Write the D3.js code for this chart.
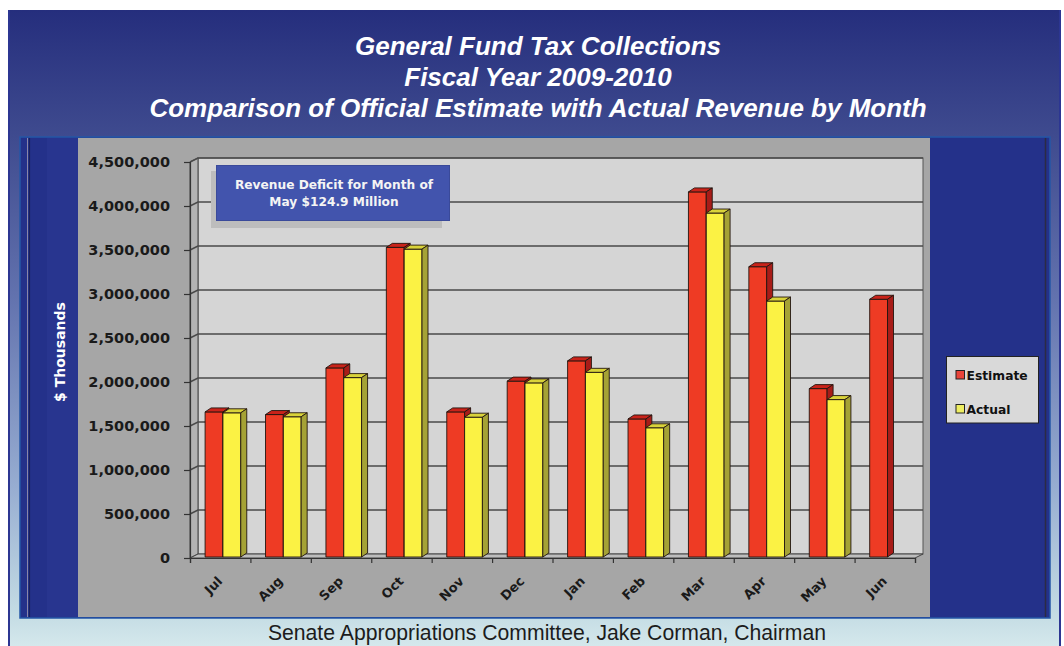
<!DOCTYPE html>
<html>
<head>
<meta charset="utf-8">
<script src="https://cdn.jsdelivr.net/npm/d3@7"></script>
<style>
  html, body { margin: 0; padding: 0; background: #ffffff; overflow: hidden; }
  svg { display: block; }
</style>
</head>
<body>
<svg id="chart" width="1064" height="646"></svg>
<script>
// ---- data ($ thousands) ----
const months = ["Jul", "Aug", "Sep", "Oct", "Nov", "Dec", "Jan", "Feb", "Mar", "Apr", "May", "Jun"];
const estimate = [1660000, 1630000, 2160000, 3530000, 1660000, 2010000, 2240000, 1580000, 4160000, 3310000, 1925000, 2940000];
const actual   = [1650000, 1605000, 2050000, 3510000, 1600000, 1990000, 2110000, 1480000, 3920000, 2920000, 1800100, null];
const yTickValues = [0, 500000, 1000000, 1500000, 2000000, 2500000, 3000000, 3500000, 4000000, 4500000];
const seriesNames = ["Estimate", "Actual"];
const titleLines = [
  "General Fund Tax Collections",
  "Fiscal Year 2009-2010",
  "Comparison of Official Estimate with Actual Revenue by Month"
];
const noteLines = ["Revenue Deficit for Month of", "May $124.9 Million"];
const yAxisTitle = "$ Thousands";
const footerText = "Senate Appropriations Committee, Jake Corman, Chairman";

// ---- layout ----
const W = 1064, H = 646;
const svg = d3.select("#chart");
const defs = svg.append("defs");

const bg = defs.append("linearGradient").attr("id", "panelGrad")
  .attr("gradientUnits", "userSpaceOnUse").attr("x1", 0).attr("y1", 10).attr("x2", 0).attr("y2", H);
[[0, "#252e7d"], [0.2, "#3f4b8f"], [0.45, "#6272ae"], [0.75, "#97add1"], [0.95, "#c4dce4"], [1, "#d4e8ec"]]
  .forEach(([o, c]) => bg.append("stop").attr("offset", o).attr("stop-color", c));

// outer panel
svg.append("rect").attr("x", 9).attr("y", 10).attr("width", 1051).attr("height", H - 10)
  .attr("fill", "url(#panelGrad)");
svg.append("line").attr("x1", 9).attr("x2", 9).attr("y1", 10).attr("y2", H)
  .attr("stroke", "#2c3692").attr("stroke-width", 2);
svg.append("line").attr("x1", 1060).attr("x2", 1060).attr("y1", 10).attr("y2", H)
  .attr("stroke", "#2c3692").attr("stroke-width", 2);

// title
svg.append("g").selectAll("text").data(titleLines).join("text")
  .attr("x", 538).attr("y", (d, i) => 55 + i * 31)
  .attr("text-anchor", "middle")
  .attr("font-family", "'Liberation Sans', Arial, sans-serif")
  .attr("font-weight", "bold").attr("font-style", "italic")
  .attr("font-size", 26).attr("fill", "#ffffff")
  .text(d => d);

// chart frame (dark blue) with side bands
svg.append("rect").attr("x", 20).attr("y", 137).attr("width", 1030).attr("height", 481)
  .attr("fill", "#24318a").attr("stroke", "#2457a6").attr("stroke-width", 1.5);
svg.append("rect").attr("x", 47).attr("y", 138).attr("width", 31).attr("height", 479).attr("fill", "#28358f");
svg.append("line").attr("x1", 27.5).attr("x2", 27.5).attr("y1", 138).attr("y2", 617)
  .attr("stroke", "#8a86a8").attr("stroke-width", 1);
svg.append("line").attr("x1", 29.5).attr("x2", 29.5).attr("y1", 138).attr("y2", 617)
  .attr("stroke", "#1a1f5a").attr("stroke-width", 1.2);
svg.append("line").attr("x1", 1045.5).attr("x2", 1045.5).attr("y1", 138).attr("y2", 617)
  .attr("stroke", "#2b2b44").attr("stroke-width", 1.5);

// gray plot area
svg.append("rect").attr("x", 78).attr("y", 138).attr("width", 852).attr("height", 479).attr("fill", "#a6a6a6");

// y axis title
svg.append("text").attr("transform", "translate(65,352) rotate(-90)")
  .attr("text-anchor", "middle")
  .attr("font-family", "'DejaVu Sans', sans-serif").attr("font-weight", "bold")
  .attr("font-size", 14).attr("fill", "#ffffff").text(yAxisTitle);

// ---- scales ----
const x0 = 190, x1 = 915, yBase = 558, yTop = 162;
const wallDX = 8, wallDY = 4;
const barDX = 6, barDY = 4;
const x = d3.scaleBand().domain(months).range([x0, x1]);
const y = d3.scaleLinear().domain([0, 4500000]).range([yBase, yTop]);
const band = x.bandwidth();

const plot = svg.append("g");

// back wall
plot.append("rect").attr("x", x0 + wallDX).attr("y", yTop - wallDY)
  .attr("width", x1 - x0).attr("height", yBase - yTop)
  .attr("fill", "#d5d5d5").attr("stroke", "#555").attr("stroke-width", 1);
// left wall
plot.append("polygon")
  .attr("points", [[x0, yTop], [x0 + wallDX, yTop - wallDY], [x0 + wallDX, yBase - wallDY], [x0, yBase]].join(" "))
  .attr("fill", "#b3b3b3").attr("stroke", "#444").attr("stroke-width", 1);
// floor
plot.append("polygon")
  .attr("points", [[x0, yBase], [x0 + wallDX, yBase - wallDY], [x1 + wallDX, yBase - wallDY], [x1, yBase]].join(" "))
  .attr("fill", "#bdbdbd").attr("stroke", "#444").attr("stroke-width", 1);

// gridlines on walls
plot.append("g").selectAll("polyline").data(yTickValues.filter(v => v > 0)).join("polyline")
  .attr("points", v => [[x0, y(v)], [x0 + wallDX, y(v) - wallDY], [x1 + wallDX, y(v) - wallDY]].join(" "))
  .attr("fill", "none").attr("stroke", "#4a4a4a").attr("stroke-width", 1.6);

// y axis
const yAxis = d3.axisLeft(y).tickValues(yTickValues).tickSize(6).tickPadding(14)
  .tickFormat(d3.format(","));
const gy = plot.append("g").attr("transform", `translate(${x0},0)`).call(yAxis);
gy.select(".domain").attr("stroke", "#333").attr("stroke-width", 1.2);
gy.selectAll(".tick line").attr("stroke", "#333").attr("stroke-width", 1.2);
gy.selectAll(".tick text").attr("fill", "#1a1a1a")
  .attr("font-family", "'DejaVu Sans', sans-serif").attr("font-weight", "bold").attr("font-size", 14.5);

// x axis (tick marks at category boundaries)
const xb = d3.scaleLinear().domain([0, months.length]).range([x0, x1]);
const gx = plot.append("g").attr("transform", `translate(0,${yBase})`)
  .call(d3.axisBottom(xb).tickValues(d3.range(0, months.length + 1)).tickSize(5).tickFormat(""));
gx.select(".domain").attr("stroke", "#333").attr("stroke-width", 1.2);
gx.selectAll(".tick line").attr("stroke", "#333").attr("stroke-width", 1.2);

// month labels
plot.append("g").selectAll("text").data(months).join("text")
  .attr("transform", d => `translate(${x(d) + band / 2 + 3},582) rotate(-45)`)
  .attr("text-anchor", "end")
  .attr("font-family", "'DejaVu Sans', sans-serif").attr("font-weight", "bold")
  .attr("font-size", 13).attr("fill", "#1a1a1a")
  .text(d => d);

// ---- 3D bars ----
const palette = [
  { front: "#ee3b24", top: "#c9231a", side: "#a81c18" },
  { front: "#fbf244", top: "#d9d33a", side: "#a5a235" }
];
const barW = band * 0.295;
const series = [estimate, actual];
const bars = plot.append("g");
months.forEach((m, i) => {
  series.forEach((vals, s) => {
    const v = vals[i];
    if (v == null) return;
    const bx = x(m) + band * 0.25 + s * barW;
    const yt = y(v), yb = y(0) - 1;
    const c = palette[s];
    const g = bars.append("g").attr("stroke", "#231510").attr("stroke-width", 0.9).attr("stroke-linejoin", "round");
    g.append("rect").attr("x", bx).attr("y", yt).attr("width", barW).attr("height", yb - yt).attr("fill", c.front);
    g.append("polygon")
      .attr("points", [[bx, yt], [bx + barDX, yt - barDY], [bx + barW + barDX, yt - barDY], [bx + barW, yt]].join(" "))
      .attr("fill", c.top);
    g.append("polygon")
      .attr("points", [[bx + barW, yt], [bx + barW + barDX, yt - barDY], [bx + barW + barDX, yb - barDY], [bx + barW, yb]].join(" "))
      .attr("fill", c.side);
  });
});

// ---- note box ----
svg.append("rect").attr("x", 211).attr("y", 171).attr("width", 231).attr("height", 57).attr("fill", "#bdbdbd");
svg.append("rect").attr("x", 216.5).attr("y", 165.5).attr("width", 233).attr("height", 55)
  .attr("fill", "#4254ad").attr("stroke", "#3a4a9a").attr("stroke-width", 1);
svg.append("g").selectAll("text").data(noteLines).join("text")
  .attr("x", 334).attr("y", (d, i) => 189 + i * 16.5)
  .attr("text-anchor", "middle")
  .attr("font-family", "'DejaVu Sans', sans-serif").attr("font-weight", "bold")
  .attr("font-size", 12.2).attr("fill", "#f4f4f4")
  .text(d => d);

// ---- legend ----
const lg = svg.append("g");
lg.append("rect").attr("x", 946.5).attr("y", 356.5).attr("width", 92).attr("height", 66.5)
  .attr("fill", "#d9d9d9").attr("stroke", "#222").attr("stroke-width", 1);
const legendColors = ["#e8443a", "#eeee62"];
seriesNames.forEach((name, i) => {
  const cy = 375 + i * 34;
  lg.append("rect").attr("x", 956).attr("y", cy - 4.5).attr("width", 8.5).attr("height", 8.5)
    .attr("fill", legendColors[i]).attr("stroke", "#222").attr("stroke-width", 1);
  lg.append("text").attr("x", 966.5).attr("y", cy + 4.5)
    .attr("font-family", "'DejaVu Sans', sans-serif").attr("font-weight", "bold")
    .attr("font-size", 12.3).attr("fill", "#111").text(name);
});

// ---- footer ----
svg.append("text").attr("x", 547).attr("y", 640).attr("text-anchor", "middle")
  .attr("font-family", "'Liberation Sans', Arial, sans-serif")
  .attr("font-size", 21.2).attr("fill", "#1c1c1c").text(footerText);
</script>
</body>
</html>
